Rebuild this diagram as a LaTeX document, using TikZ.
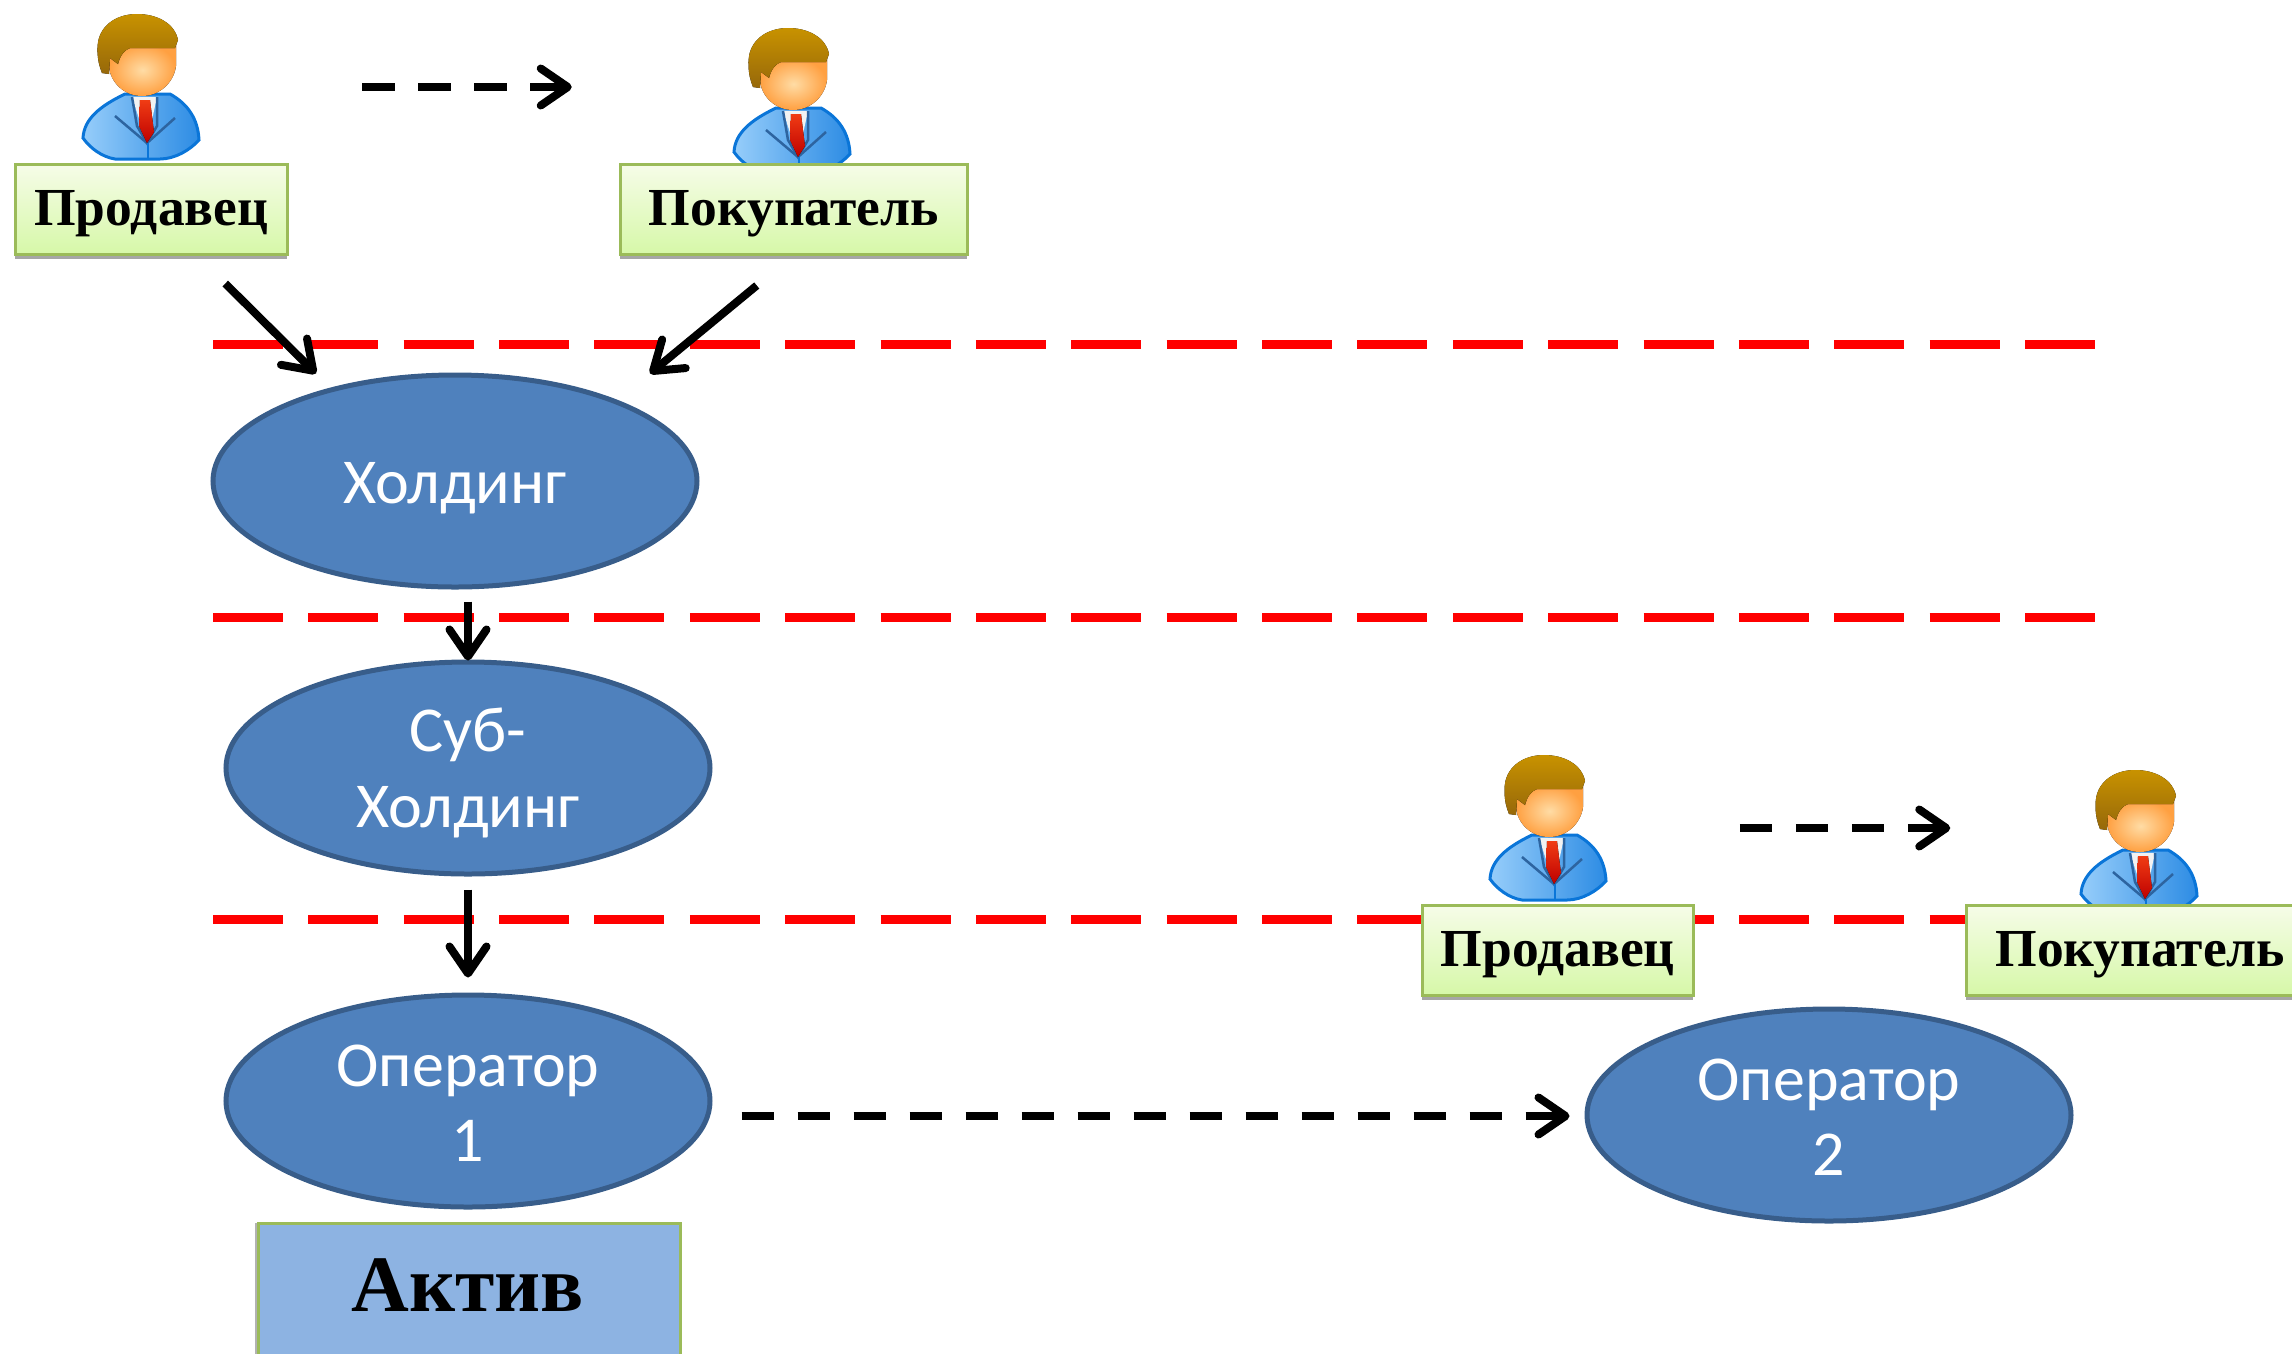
\documentclass[tikz,border=0pt]{standalone}
\usepackage{fontspec}
\setmainfont{Liberation Serif}
\newfontfamily\calib{Carlito}
\usetikzlibrary{arrows.meta,shadows,calc,shapes.geometric}
\definecolor{boxedge}{HTML}{9BBB59}
\definecolor{ellfill}{HTML}{4F81BD}
\definecolor{elledge}{HTML}{385D8A}
\definecolor{redline}{HTML}{FF0000}
\definecolor{assetfill}{HTML}{8DB3E2}
\definecolor{tagtop}{HTML}{F6FCE8}
\definecolor{tagbot}{HTML}{D6F8A8}
\definecolor{suitline}{HTML}{0A75D8}
\definecolor{suitlight}{HTML}{96CDFA}
\definecolor{suitdark}{HTML}{2D8CE4}
\definecolor{lapel}{HTML}{2D64A0}
\definecolor{tielight}{HTML}{F03C14}
\definecolor{tiedark}{HTML}{BE0000}
\definecolor{facelight}{HTML}{FFDCA5}
\definecolor{facedark}{HTML}{FFA041}
\definecolor{hairlight}{HTML}{C89200}
\definecolor{hairdark}{HTML}{96680A}
\newcommand{\lowered}[2]{\raisebox{-#1}[\height][\depth]{#2}}
\tikzset{
  x=1pt,y=-1pt,
  tagbox/.style={draw=boxedge,line width=2.5pt,top color=tagtop,bottom color=tagbot,
    drop shadow={shadow xshift=0pt,shadow yshift=-5pt,fill=black,opacity=.35},
    font=\fontsize{53.5}{56}\selectfont\bfseries,text=black,inner sep=0pt,anchor=north west},
  oval/.style={ellipse,draw=elledge,line width=5pt,fill=ellfill,minimum width=484pt,minimum height=212pt,inner sep=0pt,
    text=white,align=center,font=\calib\fontsize{64}{75.5}\selectfont},
  guide/.style={redline,line width=9pt,dash pattern=on 70pt off 25.37pt},
  flow/.style={line width=8pt,-{Straight Barb[length=27pt,width=37pt,line width=8pt,round]}},
  dflow/.style={flow,dash pattern=on 32.5pt off 23.5pt},
  man/.pic={
    \path[draw=suitline,line width=3pt,left color=suitlight,right color=suitdark]
      (3,124) .. controls (4,105) and (20,92) .. (45,80) -- (90,80) .. controls (108,90) and (118,105) .. (119,126)
      .. controls (110,136) and (95,145) .. (80,145) -- (35,145) .. controls (22,143) and (10,134) .. (3,124) -- cycle;
    \fill[white!90!gray] (52,83) -- (77,83) -- (67,129) -- cycle;
    \draw[lapel,line width=2.5pt] (52,83) -- (57,112) -- (67,129) -- (77,112) -- (77,83);
    \draw[lapel,line width=2.5pt] (35,102) -- (67,129) -- (95,104);
    \draw[suitline,line width=2pt] (68,129) -- (68,145);
    \fill[top color=tielight,bottom color=tiedark] (60,86) -- (70,86) -- (74,118) -- (67,129) -- (59,112) -- cycle;
    \fill[inner color=facelight,outer color=facedark]
      (29,30) -- (96,30) -- (96,52) .. controls (94,68) and (80,82) .. (62,82) .. controls (44,82) and (30,68) .. (29,52) -- cycle;
    \fill[top color=hairlight,bottom color=hairdark]
      (22,59) .. controls (16,45) and (17,30) .. (19,24) .. controls (24,8) and (40,0) .. (57,0) .. controls (78,0) and (95,10) .. (98,26)
      -- (95,34) -- (50,34) .. controls (44,36) and (40,42) .. (38,50) -- (30,44) -- (29,60) -- cycle;
  }
}
\begin{document}
\begin{tikzpicture}
\useasboundingbox (0,0) rectangle (2292,1353);
\clip (0,0) rectangle (2292,1353);
% ovals
\node[oval] (hold) at (455,481) {\lowered{7pt}{Холдинг}};
\node[oval] (sub) at (468,768) {\lowered{5pt}{Суб-}\\\lowered{5pt}{Холдинг}};
\node[oval] (op1) at (468,1101) {\lowered{2pt}{Оператор}\\\lowered{2pt}{1}};
\node[oval] (op2) at (1829,1115) {\lowered{2pt}{Оператор}\\\lowered{2pt}{2}};
% guides
\coordinate (g1a) at (213,344); \coordinate (g1b) at (2095,344);
\coordinate (g2a) at (213,617); \coordinate (g2b) at (2095,617);
\coordinate (g3a) at (213,919); \coordinate (g3b) at (2095,919);
\draw[guide] (g1a) -- (g1b);
\draw[guide] (g2a) -- (g2b);
\draw[guide] (g3a) -- (g3b);
% people
\pic at (80,14) {man};
\pic at (731,28) {man};
\pic at (1487,755) {man};
\pic at (2078,770) {man};
% tags
\node[tagbox,minimum width=272pt,minimum height=90pt] (sell1) at (14,163) {\lowered{4pt}{Продавец}};
\node[tagbox,minimum width=347pt,minimum height=90pt] (buy1) at (619,163) {\lowered{4pt}{Покупатель}};
\node[tagbox,minimum width=271pt,minimum height=90pt] (sell2) at (1421,904) {\lowered{4pt}{Продавец}};
\node[tagbox,minimum width=348pt,minimum height=90pt] (buy2) at (1965,904) {\lowered{4pt}{Покупатель}};
\node[draw=boxedge,line width=2.5pt,fill=assetfill,inner sep=0pt,minimum width=422pt,minimum height=180pt,anchor=north west,
  drop shadow={shadow xshift=-3pt,shadow yshift=0pt,fill=black,opacity=.3},
  text=black] (asset) at (257,1222) {};
\node[font=\fontsize{80}{84}\selectfont\bfseries] (assettext) at (468,1285) {Актив};
% connectors
\draw[flow] ([shift={(74,28)}]sell1.south) -- ([shift={(-139,1)}]hold.north);
\draw[flow] ([shift={(-37,30)}]buy1.south) -- ([shift={(195,1)}]hold.north);
\draw[flow] ([shift={(13,12)}]hold.south) -- ([shift={(0,1)}]sub.north);
\draw[flow] ([shift={(0,13)}]sub.south) -- ([shift={(0,-15)}]op1.north);
\draw[dflow] ([shift={(211,-76)}]sell1.north) -- ([shift={(-222,-76)}]buy1.north);
\draw[dflow] ([shift={(182,-76)}]sell2.north) -- ([shift={(-190,-76)}]buy2.north);
\draw[dflow] ([shift={(29,15)}]op1.east) -- ([shift={(-15,1)}]op2.west);
\end{tikzpicture}
\end{document}
